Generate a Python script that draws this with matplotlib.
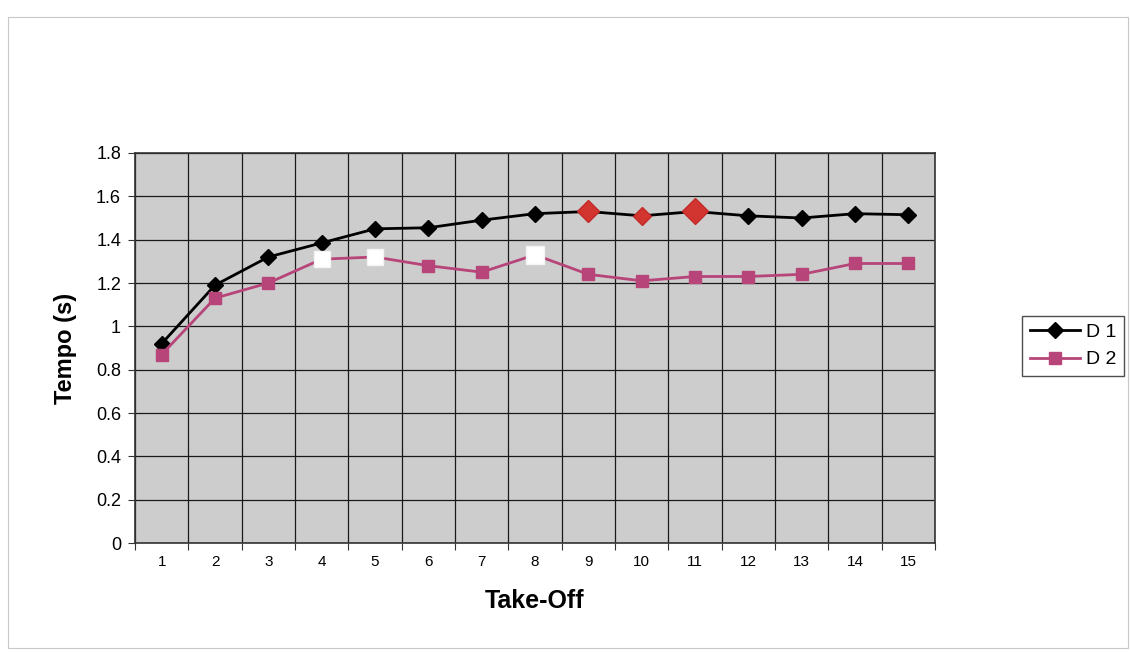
import numpy as np
import matplotlib.pyplot as plt
from matplotlib.patches import Rectangle
from matplotlib.ticker import FixedLocator, NullFormatter

plt.rcParams['font.family'] = ['Liberation Sans', 'DejaVu Sans']

takeoff = np.arange(1, 16)
d1 = [0.92, 1.19, 1.32, 1.385, 1.45, 1.455, 1.49, 1.52, 1.53, 1.51, 1.53, 1.51, 1.50, 1.52, 1.515]
d2 = [0.87, 1.13, 1.20, 1.31, 1.32, 1.28, 1.25, 1.33, 1.24, 1.21, 1.23, 1.23, 1.24, 1.29, 1.29]
yticks = [0, 0.2, 0.4, 0.6, 0.8, 1, 1.2, 1.4, 1.6, 1.8]
ytick_labels = ['0', '0.2', '0.4', '0.6', '0.8', '1', '1.2', '1.4', '1.6', '1.8']

# highlighted points (take-off index, marker size)
d1_red = [(9, 11), (10, 9), (11, 13)]
d2_white = [(4, 12), (5, 12), (8, 13)]

pink = '#b8457a'

fig = plt.figure(figsize=(11.3, 6.52), dpi=100)
fig.patch.set_facecolor('white')
fig.patches.append(Rectangle((8 / 1130, 4 / 652), 1120 / 1130, 631 / 652,
                             transform=fig.transFigure, fill=False,
                             edgecolor='#c8c8c8', lw=0.8))

ax = fig.add_axes([135 / 1130, 1 - 543 / 652, 800 / 1130, 390 / 652])
ax.set_facecolor('#cdcdcd')

ax.plot(takeoff, d1, color='black', lw=2, marker='D', ms=8.5,
        mfc='black', mec='black', label='D 1', zorder=3)
ax.plot(takeoff, d2, color=pink, lw=2, marker='s', ms=9,
        mfc=pink, mec=pink, label='D 2', zorder=4)

for i, s in d1_red:
    ax.plot(takeoff[i - 1], d1[i - 1], marker='D', ms=s, color='#d2342f',
            mec='#c02a28', ls='none', zorder=5)
for i, s in d2_white:
    ax.plot(takeoff[i - 1], d2[i - 1], marker='s', ms=s, color='white',
            mec='#f4f4f4', ls='none', zorder=5)

ax.set_xlim(0.5, 15.5)
ax.set_ylim(0, 1.8)

# category axis: ticks between categories, labels at the centres
ax.xaxis.set_major_locator(FixedLocator(np.arange(0.5, 16, 1)))
ax.xaxis.set_major_formatter(NullFormatter())
ax.xaxis.set_minor_locator(FixedLocator(takeoff))
ax.set_xticklabels([str(t) for t in takeoff], minor=True, fontsize=11,
                   family=['Liberation Sans Narrow', 'Liberation Sans'])
ax.tick_params(axis='x', which='minor', length=0, pad=9)
ax.tick_params(axis='x', which='major', length=5, direction='out', color='#333333')

ax.set_yticks(yticks)
ax.set_yticklabels(ytick_labels, fontsize=13)
ax.tick_params(axis='y', length=5, direction='out', color='#333333', pad=5)

ax.grid(True, which='major', color='#1a1a1a', lw=0.9)
ax.set_axisbelow(True)
for sp in ax.spines.values():
    sp.set_color('#333333')
    sp.set_linewidth(1.2)

ax.set_xlabel('Take-Off', fontsize=18, fontweight='bold', labelpad=14)
ax.set_ylabel('Tempo (s)', fontsize=17, fontweight='bold', labelpad=14)

leg = fig.legend(loc='center left', bbox_to_anchor=(1012 / 1130, 1 - 346 / 652),
                 fontsize=14, frameon=True, fancybox=False, handlelength=2.6,
                 handletextpad=0.3, borderpad=0.4, labelspacing=0.5)
leg.get_frame().set_edgecolor('#222222')
leg.get_frame().set_linewidth(1)

fig.savefig('out.png', dpi=100)
